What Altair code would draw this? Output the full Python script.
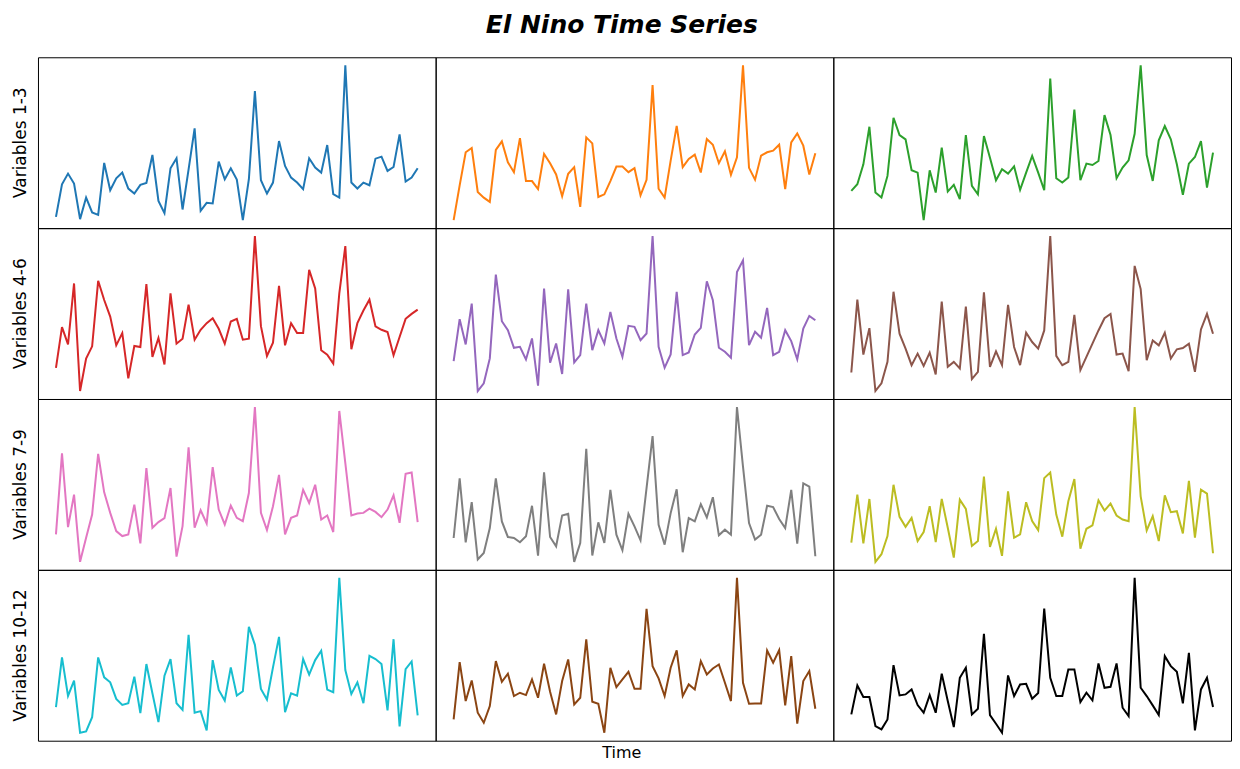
import altair as alt
import pandas as pd

years = list(range(1950, 2011))
months = ["JAN", "FEB", "MAR", "APR", "MAY", "JUN", "JUL", "AUG", "SEP", "OCT", "NOV", "DEC"]
row_labels = ["Variables 1-3", "Variables 4-6", "Variables 7-9", "Variables 10-12"]
colors = ["#1f77b4", "#ff7f0e", "#2ca02c", "#d62728", "#9467bd", "#8c564b",
          "#e377c2", "#7f7f7f", "#bcbd22", "#17becf", "#8b4513", "#000000"]

jan = [3.8, 13.6, 16.8, 13.8, 3.1, 9.6, 5.1, 4.4, 20.0, 11.8, 15.4, 17.1, 12.3, 10.8, 13.4, 14.0, 22.4, 8.6, 4.9, 18.4,
       21.4, 6.0, 18.1, 30.4, 5.6, 8.0, 7.8, 20.4, 15.1, 18.4, 15.0, 2.8, 15.1, 41.6, 14.8, 10.8, 14.1, 26.6, 19.1, 15.6,
       14.1, 12.1, 21.4, 18.6, 17.1, 25.4, 10.6, 9.6, 49.4, 14.1, 12.3, 14.1, 13.3, 21.3, 21.9, 17.6, 18.8, 28.6, 14.4, 15.6, 18.4]
feb = [2.6, 13.1, 23.1, 24.4, 11.1, 9.4, 8.1, 23.8, 26.4, 20.1, 17.1, 27.4, 14.4, 14.4, 12.0, 22.6, 19.8, 16.4, 9.8, 16.6,
       18.6, 6.6, 27.6, 25.8, 9.6, 10.4, 14.4, 18.8, 18.8, 17.1, 18.3, 10.1, 14.8, 43.4, 12.1, 9.4, 20.6, 31.1, 18.6, 21.1,
       22.4, 17.0, 27.1, 25.4, 19.8, 23.4, 16.3, 21.6, 49.4, 18.4, 14.8, 22.1, 23.1, 23.6, 25.4, 12.0, 26.1, 28.8, 25.1, 16.4, 22.8]
mar = [11.6, 13.6, 19.6, 30.9, 11.1, 9.6, 16.1, 33.6, 28.4, 27.1, 17.8, 17.1, 2.8, 17.8, 11.1, 24.6, 11.4, 13.4, 9.1, 28.4,
       13.1, 10.6, 28.1, 21.6, 14.8, 18.1, 16.8, 19.0, 11.9, 17.1, 22.1, 17.1, 11.8, 45.4, 15.4, 14.1, 15.6, 36.1, 14.8, 19.8,
       19.4, 20.6, 34.4, 28.4, 15.4, 18.6, 20.8, 28.8, 49.4, 22.4, 14.6, 26.8, 31.1, 27.1, 19.6, 10.4, 19.8, 21.8, 26.6, 12.6, 23.1]
apr = [9.8, 22.1, 16.9, 35.3, 2.8, 12.6, 16.3, 36.1, 30.3, 25.3, 16.6, 20.3, 6.6, 16.4, 16.1, 35.1, 13.1, 18.8, 10.8, 32.3,
       17.1, 18.6, 28.9, 18.3, 21.3, 23.3, 24.8, 21.6, 17.1, 23.8, 24.6, 18.3, 18.6, 49.6, 22.4, 13.4, 17.4, 34.6, 16.6, 23.3,
       20.3, 20.3, 39.4, 33.8, 15.1, 13.8, 11.1, 32.3, 46.6, 15.4, 23.3, 27.1, 30.4, 22.3, 21.3, 20.6, 13.6, 19.1, 24.6, 26.1, 27.4]
may = [11.8, 24.4, 16.8, 29.1, 2.8, 5.1, 12.6, 37.8, 23.8, 21.1, 15.8, 16.1, 12.3, 18.6, 4.4, 33.6, 11.3, 17.1, 7.9, 33.4,
       11.4, 13.6, 29.1, 15.1, 21.1, 17.1, 26.6, 18.6, 13.1, 22.4, 22.1, 18.1, 20.1, 49.4, 16.1, 9.8, 13.8, 32.6, 13.6, 14.4,
       19.8, 21.8, 35.8, 30.1, 15.8, 14.6, 12.8, 38.6, 42.1, 16.6, 20.6, 18.8, 27.8, 13.6, 14.6, 21.1, 17.8, 12.3, 21.6, 25.4, 24.1]
jun = [8.4, 30.4, 13.8, 21.8, 2.8, 5.1, 11.6, 32.8, 20.1, 15.6, 10.6, 14.1, 10.4, 14.4, 7.8, 29.8, 10.1, 11.6, 9.6, 28.3,
       6.4, 8.6, 32.6, 10.1, 14.8, 10.6, 28.8, 16.1, 10.6, 20.4, 17.6, 15.6, 21.1, 49.6, 13.4, 10.6, 11.6, 25.8, 9.1, 13.1,
       17.1, 21.1, 24.8, 26.1, 13.8, 14.1, 8.8, 40.6, 33.6, 12.1, 18.1, 16.6, 20.4, 12.6, 15.4, 15.8, 17.1, 8.6, 21.4, 26.1, 20.1]
jul = [11.1, 35.6, 13.3, 23.1, 2.8, 10.1, 17.1, 35.4, 23.8, 17.6, 12.1, 10.6, 11.1, 20.1, 8.4, 31.1, 13.1, 14.8, 16.0, 25.1,
       4.4, 13.6, 37.4, 13.1, 18.4, 14.4, 31.4, 18.6, 14.1, 19.8, 16.1, 15.1, 23.6, 49.6, 17.6, 12.4, 19.6, 29.1, 11.1, 16.1,
       16.8, 24.6, 20.6, 26.1, 15.6, 16.8, 11.8, 48.4, 32.6, 16.8, 17.4, 17.6, 18.9, 17.9, 16.3, 18.6, 22.9, 14.6, 29.4, 29.8, 14.8]
aug = [10.1, 28.1, 8.8, 20.9, 3.6, 5.6, 13.1, 28.1, 15.1, 10.4, 10.1, 8.8, 10.6, 19.8, 4.8, 29.9, 10.4, 7.6, 16.9, 17.4,
       2.9, 8.6, 37.0, 4.8, 14.8, 8.6, 24.6, 11.1, 6.4, 17.4, 13.6, 9.4, 25.1, 40.8, 14.1, 8.1, 17.6, 24.8, 5.8, 16.1,
       15.1, 20.3, 16.3, 22.4, 10.9, 12.6, 11.1, 49.6, 31.6, 14.6, 9.6, 11.1, 19.8, 19.4, 15.8, 13.1, 24.6, 8.4, 26.6, 25.6, 4.6]
sep = [8.6, 23.1, 8.4, 21.8, 2.8, 5.1, 10.6, 26.1, 16.4, 13.4, 16.1, 9.1, 11.8, 19.6, 8.8, 21.8, 13.1, 4.1, 21.6, 18.8,
       7.6, 9.1, 28.6, 7.3, 12.8, 4.6, 24.1, 10.1, 11.1, 20.8, 15.1, 12.4, 28.1, 29.8, 17.1, 10.4, 21.1, 27.8, 6.8, 12.8,
       13.8, 21.4, 18.3, 20.4, 16.8, 15.6, 15.1, 49.6, 22.6, 12.3, 16.6, 9.1, 22.9, 17.8, 18.1, 11.4, 27.3, 10.1, 24.6, 23.4, 5.4]
oct_ = [10.6, 25.6, 14.0, 18.6, 2.9, 3.3, 7.6, 25.6, 19.6, 18.1, 13.1, 11.3, 11.8, 19.8, 8.8, 23.6, 14.8, 6.1, 20.1, 25.1,
        11.8, 9.8, 32.4, 8.9, 9.4, 3.6, 24.8, 15.8, 12.6, 22.6, 14.1, 15.4, 34.8, 29.4, 16.1, 12.9, 22.6, 31.8, 9.1, 14.8,
        14.1, 25.1, 20.4, 24.8, 27.6, 15.9, 15.1, 49.6, 21.8, 14.6, 18.1, 11.8, 26.1, 25.1, 23.6, 9.6, 31.1, 4.8, 22.1, 24.4, 8.1]
nov = [7.1, 24.3, 12.6, 18.8, 9.1, 6.1, 11.1, 24.6, 18.4, 20.8, 14.1, 15.1, 14.4, 19.1, 13.6, 23.8, 15.4, 8.6, 18.6, 25.1,
       11.6, 13.6, 31.1, 12.4, 11.8, 3.1, 22.6, 16.8, 19.1, 21.4, 16.3, 16.3, 40.3, 23.1, 19.4, 14.1, 22.6, 27.8, 14.1, 17.6,
       16.1, 24.6, 20.6, 22.4, 23.6, 18.1, 12.6, 49.6, 18.1, 11.8, 11.9, 11.9, 27.8, 24.1, 27.9, 11.3, 26.1, 5.8, 18.6, 21.6, 10.3]
dec = [8.6, 17.3, 13.8, 13.8, 5.1, 4.1, 7.1, 23.4, 14.3, 14.6, 16.1, 11.4, 9.1, 14.4, 9.1, 20.8, 12.6, 4.8, 19.6, 22.6,
       8.6, 10.3, 32.8, 8.4, 5.8, 3.1, 20.3, 14.1, 17.6, 17.8, 13.3, 15.0, 40.4, 19.6, 14.1, 14.1, 22.1, 22.1, 12.3, 15.1,
       12.8, 23.9, 16.6, 16.9, 23.9, 10.6, 8.1, 49.6, 16.6, 14.1, 11.3, 8.4, 26.1, 23.1, 21.4, 11.9, 27.1, 3.8, 16.1, 19.6, 10.8]

series = [jan, feb, mar, apr, may, jun, jul, aug, sep, oct_, nov, dec]

records = []
for k, (m, vals) in enumerate(zip(months, series)):
    for yr, v in zip(years, vals):
        records.append({"year": yr, "value": v, "month": m,
                        "group": row_labels[k // 3], "col": k % 3})
df = pd.DataFrame(records)

base = alt.Chart(df).mark_line(strokeWidth=2).encode(
    x=alt.X("year:Q", axis=None, scale=alt.Scale(nice=False, zero=False, padding=18)),
    y=alt.Y("value:Q", axis=None, scale=alt.Scale(nice=False, zero=False, padding=8)),
    color=alt.Color("month:N", scale=alt.Scale(domain=months, range=colors), legend=None),
).properties(width=398, height=171)

facet = base.facet(
    row=alt.Row("group:N", sort=row_labels,
                header=alt.Header(title=None, labelAngle=-90, labelOrient="left",
                                  labelFontSize=17, labelFont="DejaVu Sans",
                                  labelColor="black", labelPadding=0)),
    column=alt.Column("col:O", header=alt.Header(title=None, labels=False)),
    bounds="flush",
).resolve_scale(y="independent").properties(
    title=alt.TitleParams("Time", orient="bottom", anchor="middle", fontSize=16,
                          font="DejaVu Sans", fontWeight="normal", color="black", offset=4)
)

chart = alt.vconcat(facet).properties(
    title=alt.TitleParams("El Nino Time Series", anchor="middle", fontSize=25,
                          font="DejaVu Sans", fontWeight="bold", fontStyle="italic",
                          color="black", offset=19),
    padding={"left": 3, "top": 4, "right": 0, "bottom": 0},
).configure_view(stroke="black", strokeWidth=1).configure_facet(spacing=0)

chart.save("out.html", embed_options={"renderer": "svg", "actions": False})
